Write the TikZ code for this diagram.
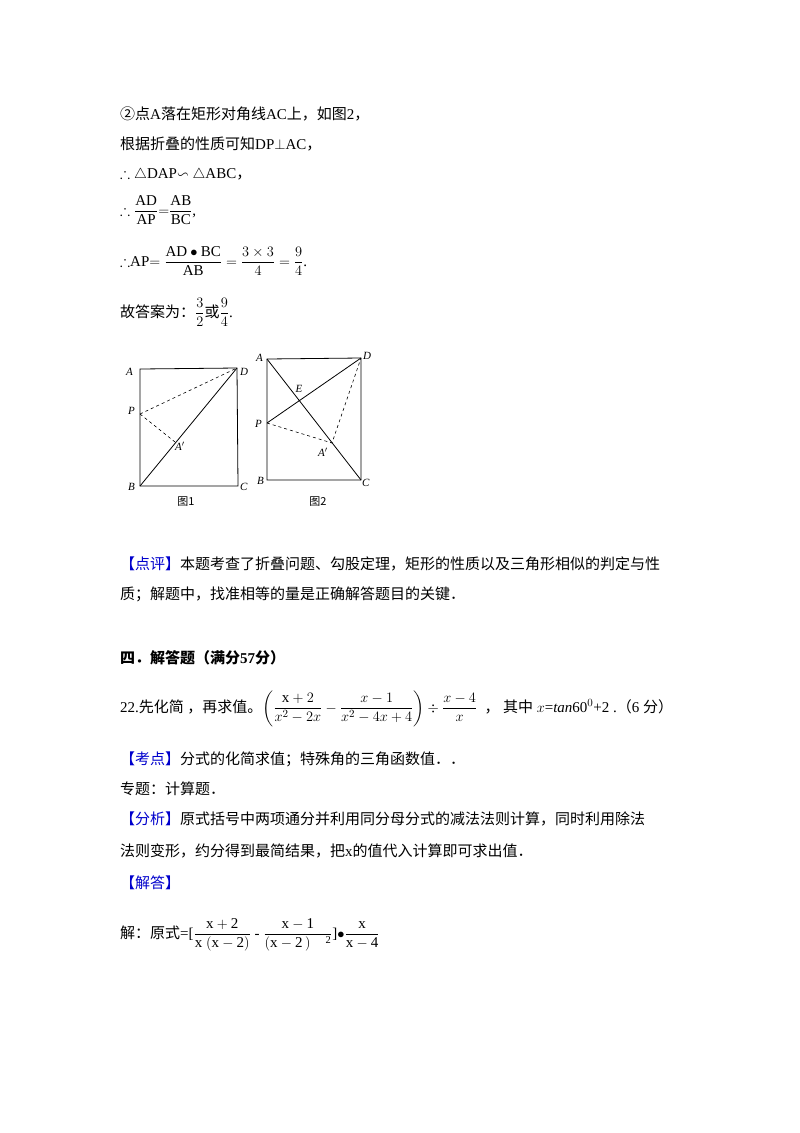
\documentclass[tikz,border=0pt]{standalone}
\usepackage{amsmath,amssymb}
\usepackage{fontspec}
\setmainfont{Liberation Serif}
\newfontfamily\cj{Noto Sans CJK SC}
\newcommand{\cb}[1]{{\cj\color{blue!80!black}#1}}
\begin{document}
\begin{tikzpicture}[x=1pt,y=-1pt,
 t/.style={anchor=base west,inner sep=0pt,font=\fontsize{15}{18}\selectfont},
 lab/.style={font=\itshape\fontsize{11}{12}\selectfont,inner sep=1pt},
 edge/.style={line width=0.8pt},
 dsh/.style={dashed,line width=0.6pt}]
\useasboundingbox (0,0) rectangle (800,1133);
\node[t] (l1) at (120,119) {{\cj ②点}A{\cj 落在矩形对角线}AC{\cj 上，如图}2{\cj ，}};
\node[t] (l2) at (120,149) {{\cj 根据折叠的性质可知}DP$\perp$AC{\cj ，}};
\node[t] (l3) at (120,178) {$\therefore\triangle$DAP$\backsim\triangle$ABC{\cj ，}};
\node[t] (l4) at (120,215) {$\therefore\dfrac{\mathrm{AD}}{\mathrm{AP}}{=}\dfrac{\mathrm{AB}}{\mathrm{BC}}$,};
\node[t] (l5) at (120,266) {$\therefore$AP$=\dfrac{\mathrm{AD}\bullet\mathrm{BC}}{\mathrm{AB}}=\dfrac{3\times3}{4}=\dfrac{9}{4}$.};
\node[t] (l6) at (120,317) {{\cj 故答案为：}$\dfrac{3}{2}${\cj 或}$\dfrac{9}{4}$.};
% figure 1
\coordinate (A1) at (140,369); \coordinate (D1) at (237,368);
\coordinate (B1) at (140,486); \coordinate (C1) at (238,486);
\coordinate (P1) at (140,414); \coordinate (Q1) at (175,442);
\draw[edge] (A1)--(D1)--(C1)--(B1)--cycle;
\draw[edge] (B1)--(D1);
\draw[dsh] (P1)--(D1) (P1)--(Q1);
\node[lab,left] (la1) at (134,372) {A};
\node[lab,right] (ld1) at (239,372) {D};
\node[lab,left] (lp1) at (136,411) {P};
\node[lab,right] (lq1) at (174,446) {A$'$};
\node[lab,left] (lb1) at (136,487) {B};
\node[lab,right] (lc1) at (239,487) {C};
\node[font=\cj\fontsize{11}{12}\selectfont] (f1) at (186,502) {图1};
% figure 2
\coordinate (A2) at (267,359); \coordinate (D2) at (361,358);
\coordinate (B2) at (267,480); \coordinate (C2) at (361,480);
\coordinate (P2) at (267,423); \coordinate (Q2) at (332,443);
\draw[edge] (A2)--(D2)--(C2)--(B2)--cycle;
\draw[edge] (A2)--(C2) (P2)--(D2);
\draw[dsh] (P2)--(Q2)--(D2);
\node[lab,left] (la2) at (264,358) {A};
\node[lab,right] (ld2) at (362,356) {D};
\node[lab] (le2) at (299,389) {E};
\node[lab,left] (lp2) at (263,424) {P};
\node[lab] (lq2) at (323,452) {A$'$};
\node[lab,left] (lb2) at (265,481) {B};
\node[lab,right] (lc2) at (361,483) {C};
\node[font=\cj\fontsize{11}{12}\selectfont] (f2) at (318,502) {图2};
% comments
\node[t] (l7) at (120,569) {\cb{【点评】}{\cj 本题考查了折叠问题、勾股定理，矩形的性质以及三角形相似的判定与性}};
\node[t] (l8) at (120,599) {{\cj 质；解题中，找准相等的量是正确解答题目的关键．}};
\node[t] (l9) at (120,663) {{\cj\bfseries 四．解答题（满分}\textbf{57}{\cj\bfseries 分）}};
\node[t] (l10) at (120,712) {22.{\cj 先化简 ，再求值。}$\left(\dfrac{\mathrm{x}+2}{x^2-2x}-\dfrac{x-1}{x^2-4x+4}\right)\div\dfrac{x-4}{x}$\ \ {\cj ，\ 其中} $x$=\textit{tan}60$^0$+2 .{\cj（}6 {\cj 分）}};
\node[t] (l11) at (120,764) {\cb{【考点】}{\cj 分式的化简求值；特殊角的三角函数值．．}};
\node[t] (l12) at (120,794) {{\cj 专题：计算题．}};
\node[t] (l13) at (120,824) {\cb{【分析】}{\cj 原式括号中两项通分并利用同分母分式的减法法则计算，同时利用除法}};
\node[t] (l14) at (120,856) {{\cj 法则变形，约分得到最简结果，把}x{\cj 的值代入计算即可求出值．}};
\node[t] (l15) at (120,888) {\cb{【解答】}};
\node[t] (l16) at (120,938) {{\cj 解：原式}=[$\dfrac{\mathrm{x+2}}{\mathrm{x\ (x-2)}}$\ -\ $\dfrac{\mathrm{x-1}}{\mathrm{(x-2\,)\quad^2}}$]$\bullet\dfrac{\mathrm{x}}{\mathrm{x-4}}$};
\end{tikzpicture}
\end{document}
